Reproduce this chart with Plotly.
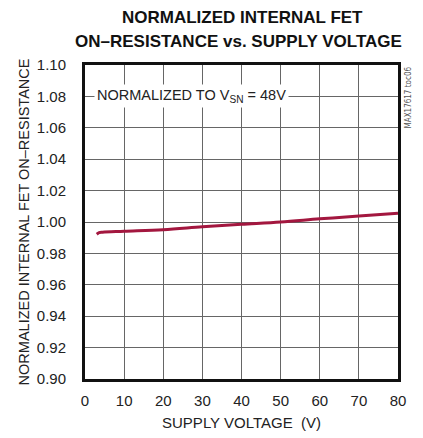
import plotly.graph_objects as go

supply_voltage = [3, 3.6, 4.5, 10, 20, 30, 40, 50, 60, 70, 80]
normalized_ron = [0.9922, 0.9932, 0.9935, 0.9941, 0.9951, 0.9969, 0.9985, 1.0000, 1.0020, 1.0038, 1.0056]

x_ticks = [0, 10, 20, 30, 40, 50, 60, 70, 80]
y_ticks = [0.90, 0.92, 0.94, 0.96, 0.98, 1.00, 1.02, 1.04, 1.06, 1.08, 1.10]
y_tick_labels = ["0.90", "0.92", "0.94", "0.96", "0.98", "1.00", "1.02", "1.04", "1.06", "1.08", "1.10"]

FONT = "Liberation Sans, Arial, sans-serif"

L, R, T, B = 85, 25, 65, 59
W, H = 423, 438
PW, PH = W - L - R, H - T - B


def px(xp):
    return (xp - L) / PW


def py(yp):
    return (H - B - yp) / PH


fig = go.Figure()
fig.add_trace(go.Scatter(
    x=supply_voltage, y=normalized_ron, mode="lines",
    line=dict(color="#A3173F", width=3, shape="spline"),
    showlegend=False, hoverinfo="skip",
))

fig.update_layout(
    width=W, height=H,
    margin=dict(l=L, r=R, t=T, b=B),
    paper_bgcolor="white", plot_bgcolor="white",
    font=dict(family=FONT, size=15, color="#222"),
    xaxis=dict(
        range=[0, 80], tickvals=x_ticks, showgrid=True, gridcolor="#666", gridwidth=1.2,
        showline=True, linecolor="#111", linewidth=3, mirror=True, zeroline=False,
        ticks="", ticklen=0, tickfont=dict(size=15), ticklabelstandoff=6,
        title=dict(text="SUPPLY VOLTAGE  (V)", font=dict(size=15), standoff=10),
        automargin=False, fixedrange=True,
    ),
    yaxis=dict(
        range=[0.90, 1.10], tickvals=y_ticks, ticktext=y_tick_labels,
        showgrid=True, gridcolor="#666", gridwidth=1.2,
        showline=True, linecolor="#111", linewidth=3, mirror=True, zeroline=False,
        ticks="", ticklen=0, tickfont=dict(size=15), ticklabelstandoff=13,
        title=dict(text="NORMALIZED INTERNAL FET ON–RESISTANCE", font=dict(size=14.5), standoff=4),
        automargin=False, fixedrange=True,
    ),
)

fig.add_annotation(
    x=px(242), y=py(17), xref="paper", yref="paper", xanchor="center", yanchor="middle",
    text="<b>NORMALIZED INTERNAL FET</b>", showarrow=False,
    font=dict(family=FONT, size=17, color="#111"),
)
fig.add_annotation(
    x=px(238), y=py(41), xref="paper", yref="paper", xanchor="center", yanchor="middle",
    text="<b>ON–RESISTANCE vs. SUPPLY VOLTAGE</b>", showarrow=False,
    font=dict(family=FONT, size=17, color="#111"),
)
fig.add_annotation(
    x=2.4, y=1.08, xref="x", yref="y", xanchor="left", yanchor="middle",
    text="NORMALIZED TO V<sub>SN</sub> = 48V", showarrow=False,
    bgcolor="white", borderpad=2, font=dict(size=14.5, color="#222"),
)
fig.add_annotation(
    x=1.0, y=1.0, xref="paper", yref="paper", xanchor="left", yanchor="top",
    xshift=3, text="MAX17617 toc06", textangle=-90, showarrow=False,
    font=dict(family="DejaVu Sans Condensed, Liberation Sans, sans-serif", size=8, color="#555"),
)

fig.write_html("out.html")
